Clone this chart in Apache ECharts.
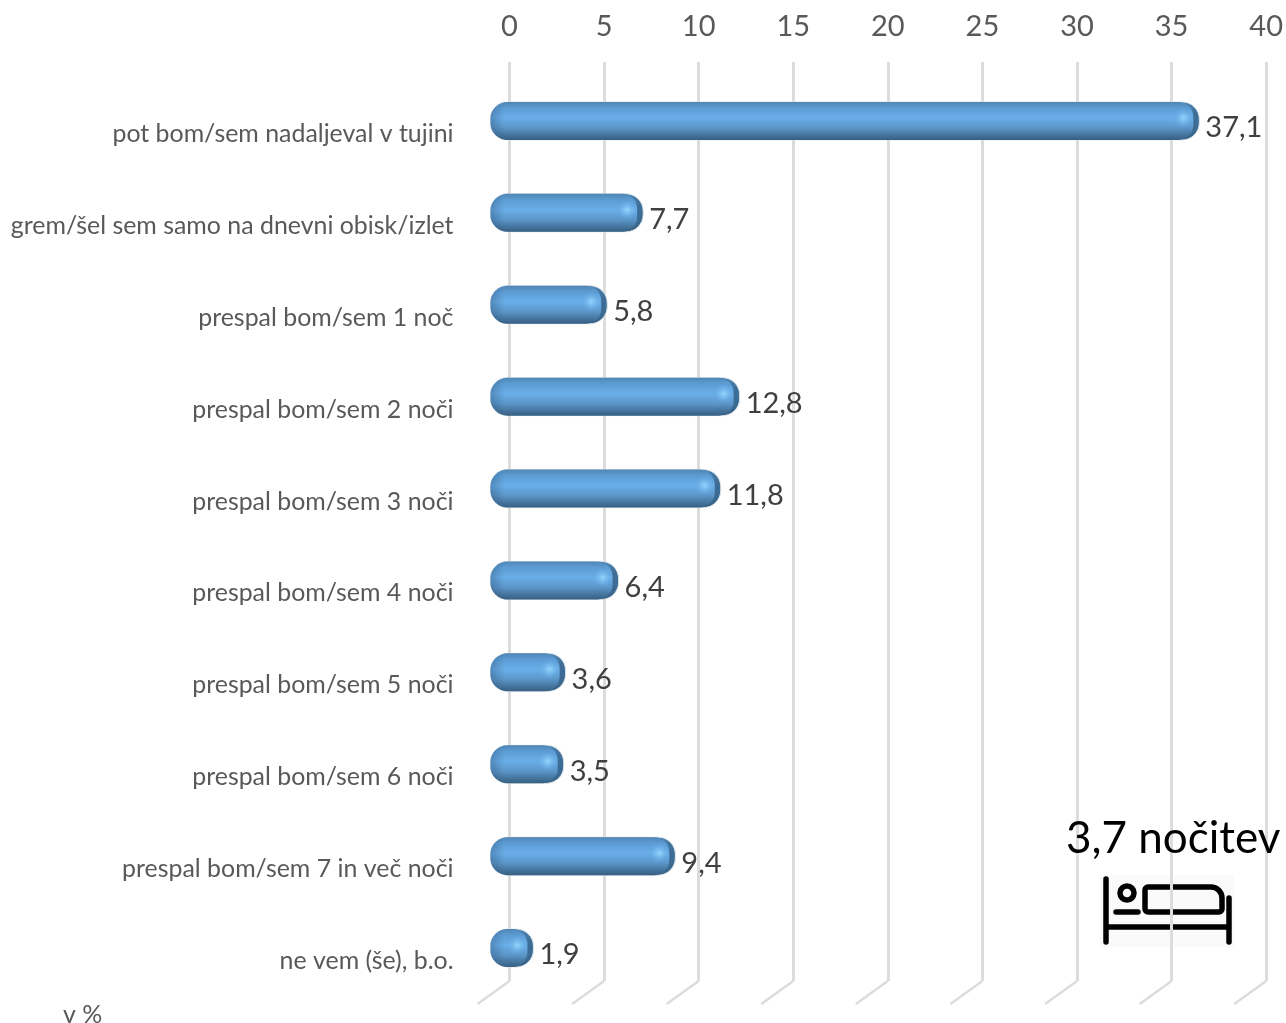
<!DOCTYPE html>
<html><head><meta charset="utf-8">
<style>html,body{margin:0;padding:0;background:#fff}#c{width:1286px;height:1023px}</style>
<script src="https://cdn.jsdelivr.net/npm/echarts@6/dist/echarts.min.js"></script>
</head><body><div id="c"></div>
<script>
const categories = ['pot bom/sem nadaljeval v tujini','grem/šel sem samo na dnevni obisk/izlet','prespal bom/sem 1 noč','prespal bom/sem 2 noči','prespal bom/sem 3 noči','prespal bom/sem 4 noči','prespal bom/sem 5 noči','prespal bom/sem 6 noči','prespal bom/sem 7 in več noči','ne vem (še), b.o.'];
const values = [37.1,7.7,5.8,12.8,11.8,6.4,3.6,3.5,9.4,1.9];
const ticks = [0,5,10,15,20,25,30,35,40];
const unitLabel = 'v %';
const noteText = '3,7 nočitev';
const FONT = 'Lato';

const chart = echarts.init(document.getElementById('c'), null, {renderer:'canvas'});
const G = echarts.graphic;
const bandGrad = new G.LinearGradient(0,0,0,1,[
  {offset:0,color:'#4f86b4'},{offset:0.16,color:'#5c9cd4'},{offset:0.42,color:'#6aaee8'},
  {offset:0.68,color:'#5b96c9'},{offset:0.88,color:'#44739b'},{offset:1,color:'#375f82'}]);
const capColor = new G.LinearGradient(0,0,0,1,[
  {offset:0,color:'#4f86b4'},{offset:0.3,color:'#3f6f98'},{offset:0.8,color:'#3a6a90'},{offset:1,color:'#375f82'}]);
const leftGrad = new G.LinearGradient(0,0,1,0,[
  {offset:0,color:'rgba(45,85,125,0.4)'},{offset:1,color:'rgba(45,85,125,0)'}]);
const glow = new G.RadialGradient(0.5,0.5,0.5,[
  {offset:0,color:'rgba(150,215,255,0.95)'},{offset:0.5,color:'rgba(125,195,245,0.5)'},{offset:1,color:'rgba(105,173,230,0)'}]);

function renderBar(params, api){
  const v = api.value(0), c = api.value(1);
  const zero = api.coord([0,c]), end = api.coord([v,c]);
  const x0 = zero[0]-19, x1 = end[0]-12, cy = zero[1]+13, h = 38, r = 17;
  const y = cy-h/2, w = x1-x0;
  return {type:'group',children:[
    {type:'rect',shape:{x:x0,y:y,width:w,height:h,r:r},style:{fill:capColor,stroke:'#dfe5ea',lineWidth:1}},
    {type:'rect',shape:{x:x0,y:y,width:w-6,height:h,r:[r,15,15,r]},style:{fill:bandGrad}},
    {type:'rect',shape:{x:x0,y:y+2,width:14,height:h-4,r:[r,0,0,r]},style:{fill:leftGrad}},
    {type:'circle',shape:{cx:x1-16,cy:cy-3,r:10},style:{fill:glow}},
    {type:'text',style:{x:x1+6,y:cy+7,text:String(v).replace('.',','),fill:'#404040',font:'29px '+FONT,align:'left',verticalAlign:'middle'}}
  ]};
}
function renderFloor(params, api){
  const p = api.coord([api.value(0),0]);
  const b = params.coordSys.y+params.coordSys.height;
  return {type:'line',shape:{x1:p[0],y1:b,x2:p[0]-32,y2:b+23},style:{stroke:'#dcdcdc',lineWidth:2.5}};
}
chart.setOption({
  animation:false,
  grid:{left:509.5,top:62,width:757.5,height:919,containLabel:false},
  xAxis:{type:'value',position:'top',min:0,max:40,interval:5,
    axisLine:{show:false},axisTick:{show:false},
    axisLabel:{color:'#595959',fontFamily:FONT,fontSize:29,margin:21},
    splitLine:{show:true,lineStyle:{color:'#dcdcdc',width:3}}},
  yAxis:{type:'category',inverse:true,data:categories,
    axisLine:{show:false},axisTick:{show:false},
    axisLabel:{color:'#595959',fontFamily:FONT,fontSize:24.9,margin:56,align:'right',verticalAlign:'top',lineHeight:52}},
  series:[
    {type:'custom',name:'floor',data:ticks.map(t=>[t]),renderItem:renderFloor,encode:{x:0},silent:true,clip:false,z:1},
    {type:'custom',name:'share',data:values.map((v,i)=>[v,i]),renderItem:renderBar,encode:{x:0,y:1},clip:false,z:3}
  ],
  graphic:[
    {type:'text',left:63,top:1002,z:10,style:{text:unitLabel,fill:'#595959',font:'25px '+FONT}},
    {type:'text',left:1066,top:817,z:10,style:{text:noteText,fill:'#000',font:'44px '+FONT}},
    {type:'group',left:1100,top:875,z:10,children:[
      {type:'rect',shape:{x:0,y:0,width:134,height:72},style:{fill:'#fafafa'}},
      {type:'line',shape:{x1:6,y1:4,x2:6,y2:67},style:{stroke:'#000',lineWidth:5.5,lineCap:'round'}},
      {type:'line',shape:{x1:129,y1:23,x2:129,y2:67},style:{stroke:'#000',lineWidth:5.5,lineCap:'round'}},
      {type:'line',shape:{x1:6,y1:52,x2:129,y2:52},style:{stroke:'#000',lineWidth:5.5}},
      {type:'circle',shape:{cx:27,cy:18,r:7},style:{fill:'none',stroke:'#000',lineWidth:5.5}},
      {type:'line',shape:{x1:16,y1:37,x2:38,y2:37},style:{stroke:'#000',lineWidth:5.5,lineCap:'round'}},
      {type:'rect',shape:{x:45,y:12,width:77,height:25,r:[3,11,3,3]},style:{fill:'none',stroke:'#000',lineWidth:5.5}}
    ]}
  ]
});
</script></body></html>
